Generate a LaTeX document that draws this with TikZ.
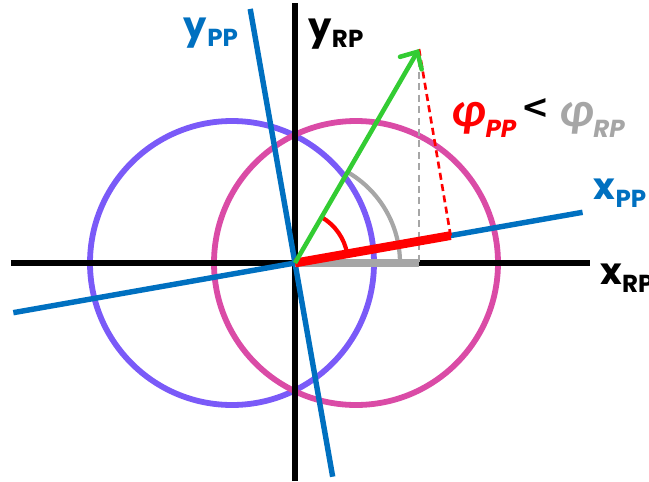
\documentclass[tikz,border=0pt]{standalone}
\usepackage{fontspec}
\setmainfont{Poppins}
\newfontfamily\phifont{Carlito}
\newfontfamily\relfont{DejaVu Sans}
\usepackage{xcolor}
\definecolor{qblue}{HTML}{0070C0}
\definecolor{qpurple}{HTML}{7A5AF8}
\definecolor{qpink}{HTML}{DA4BA6}
\definecolor{qgreen}{HTML}{33CC33}
\definecolor{qred}{HTML}{FF0000}
\definecolor{qgray}{HTML}{A6A6A6}
\usepackage{tikz}
\usetikzlibrary{arrows.meta,calc}
\newcommand{\lblsub}[1]{\raisebox{-0.4ex}{\fontsize{14}{14}\selectfont #1}}
\newcommand{\lblsubit}[1]{\raisebox{-0.5ex}{\fontsize{14}{14}\selectfont\itshape #1}}
\newcommand{\lblphi}{{\phifont\fontsize{28}{28}\selectfont\bfseries\itshape φ}}

\begin{document}
\begin{tikzpicture}[
  x=0.02cm,y=0.02cm,
  font=\fontsize{21}{21}\selectfont\bfseries,
  axis/.style={draw=black,line width=3.1pt},
  ppaxis/.style={draw=qblue,line width=3.1pt},
  ring/.style={line width=3.3pt},
  proj/.style={line cap=butt},
  guide/.style={dashed,line width=1.5pt,dash pattern=on 4pt off 2.5pt},
  vec/.style={draw=qgreen,line width=2.6pt,-{Straight Barb[length=2.6mm,width=5mm,line cap=round]}},
  ang/.style={line width=2.4pt},
  lbl/.style={inner sep=0pt,anchor=center}
]
\useasboundingbox (-295,-218) rectangle (354,263);
% frame points
\coordinate (O) at (0,0);
\coordinate (xrpL) at (-284,0);
\coordinate (xrpR) at (295,0);
\coordinate (yrpB) at (0,-218);
\coordinate (yrpT) at (0,260);
\coordinate (xppL) at (190:286);
\coordinate (xppR) at (10:292);
\coordinate (yppT) at (100:258);
\coordinate (yppB) at (280:217);
\coordinate (tip) at (124,214);
\coordinate (projRP) at (124,0);
\coordinate (projPP) at (10:158);
% circles
\draw[ring,qpurple] (-63,0) circle (142);
\draw[ring,qpink] (61,0) circle (142);
% axes
\draw[axis] (xrpL) -- (xrpR);
\draw[axis] (yrpB) -- (yrpT);
\draw[ppaxis] (xppL) -- (xppR);
\draw[ppaxis] (yppB) -- (yppT);
% angles
\draw[ang,qgray] (0:105) arc (0:60:105);
\draw[ang,qred] (10:53) arc (10:60:53);
% projections
\draw[guide,qgray] (tip) -- (projRP);
\draw[guide,qred] (tip) -- (projPP);
\draw[proj,qgray,line width=4.2pt] (O) -- (projRP);
\draw[proj,qred,line width=5pt] (O) -- (projPP);
\draw[vec] (O) -- (tip);
% labels
\node[lbl,text=qblue] (yppLbl) at (-84,230) {y\lblsub{PP}};
\node[lbl] (yrpLbl) at (41,229) {y\lblsub{RP}};
\node[lbl,text=qblue] (xppLbl) at (325,70) {x\lblsub{PP}};
\node[lbl] (xrpLbl) at (332,-15) {x\lblsub{RP}};
\node[lbl] (phiLbl) at (243,145) {\textcolor{qred}{\lblphi\lblsubit{PP}}\hspace{0.15em}\raisebox{0.4ex}{\relfont\bfseries\fontsize{19}{19}\selectfont <}\hspace{0.25em}\textcolor{qgray}{\lblphi\lblsubit{RP}}};
\end{tikzpicture}
\end{document}
